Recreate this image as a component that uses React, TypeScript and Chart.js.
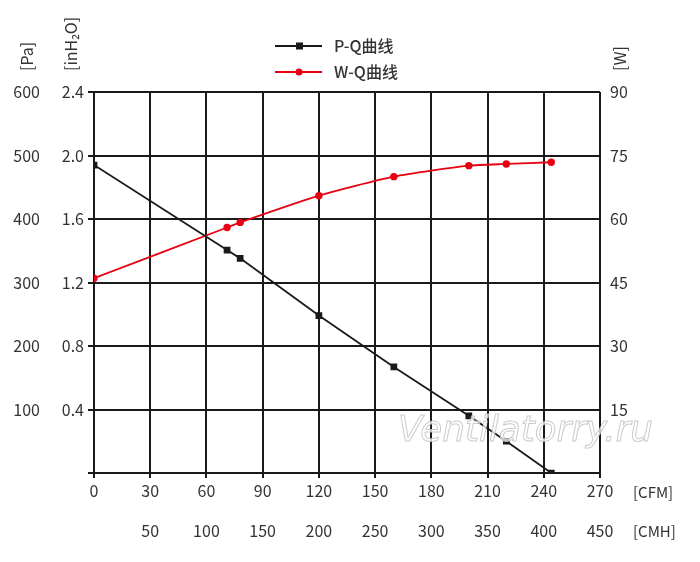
import { useEffect, useRef } from 'react';
import { Chart, registerables } from 'chart.js';

Chart.register(...registerables);

// flow rate [CFM] of each measured point
const flowCfm = [0, 71, 78, 120, 160, 200, 220, 244];
// static pressure [Pa]
const pressurePa = [485, 351, 338, 248, 167, 90, 50, 0];
// input power [W]
const powerW = [46, 58, 59.2, 65.5, 70, 72.6, 73, 73.4];

const seriesNames = ['P-Q曲线', 'W-Q曲线'];
const cmhTicks = ['', '50', '100', '150', '200', '250', '300', '350', '400', '450'];
const unitLabels = { pa: '[Pa]', inh2o: '[inH₂O]', w: '[W]', cfm: '[CFM]', cmh: '[CMH]' };
const watermark = 'Ventilatorry.ru';

const FONT = "'Noto Sans CJK SC', 'Noto Sans', sans-serif";
const INK = '#1a1a1a';
const TEXT = '#333';
const RED = '#e60012';

const overlay = {
  id: 'overlay',
  afterDraw(chart: any) {
    const { ctx, chartArea } = chart;
    const { left, right, top, bottom } = chartArea;
    ctx.save();

    // rotated unit titles above the axes
    ctx.fillStyle = TEXT;
    ctx.font = `16px ${FONT}`;
    ctx.textBaseline = 'middle';
    ctx.textAlign = 'left';
    const rot = (txt: string, x: number, y: number) => {
      ctx.save();
      ctx.translate(x, y);
      ctx.rotate(-Math.PI / 2);
      ctx.fillText(txt, 0, 0);
      ctx.restore();
    };
    rot(unitLabels.pa, left - 67, top - 21);
    rot(unitLabels.inh2o, left - 23, top - 21);
    rot(unitLabels.w, right + 20, top - 21);

    // x unit labels
    ctx.font = `15px ${FONT}`;
    ctx.fillText(unitLabels.cfm, right + 33, bottom + 19);
    ctx.fillText(unitLabels.cmh, right + 33, bottom + 58);

    // legend
    const items = chart.data.datasets;
    items.forEach((ds: any, i: number) => {
      const y = top - 46 + i * 26;
      const x0 = left + 181;
      ctx.strokeStyle = ds.borderColor;
      ctx.lineWidth = 2;
      ctx.beginPath();
      ctx.moveTo(x0, y);
      ctx.lineTo(x0 + 47, y);
      ctx.stroke();
      ctx.fillStyle = ds.borderColor;
      if (ds.pointStyle === 'rect') {
        ctx.fillRect(x0 + 21, y - 3.5, 7, 7);
      } else {
        ctx.beginPath();
        ctx.arc(x0 + 24, y, 3.5, 0, Math.PI * 2);
        ctx.fill();
      }
      ctx.fillStyle = TEXT;
      ctx.font = `500 16px ${FONT}`;
      ctx.fillText(ds.label, x0 + 59, y);
    });

    // watermark, stretched to its width in the original
    ctx.font = `italic 36px 'DejaVu Sans', sans-serif`;
    ctx.textBaseline = 'alphabetic';
    const w = ctx.measureText(watermark).width;
    ctx.translate(right - 202, bottom - 32);
    ctx.scale(255 / w, 1);
    ctx.fillStyle = 'rgba(255,255,255,0.75)';
    ctx.strokeStyle = 'rgba(190,190,190,0.8)';
    ctx.lineWidth = 1;
    ctx.fillText(watermark, 0, 0);
    ctx.strokeText(watermark, 0, 0);

    ctx.restore();
  },
};

export default function App() {
  const chartRef = useRef<HTMLCanvasElement | null>(null);
  const chartInstance = useRef<Chart | null>(null);

  useEffect(() => {
    document.body.style.margin = '0';
    const ctx = chartRef.current?.getContext('2d');
    if (!ctx) return;

    if (chartInstance.current) {
      chartInstance.current.destroy();
    }

    const tickFont = { family: FONT, size: 16 };

    chartInstance.current = new Chart(ctx, {
      type: 'line',
      data: {
        datasets: [
          {
            label: seriesNames[0],
            data: flowCfm.map((x, i) => ({ x, y: pressurePa[i] })),
            yAxisID: 'pa',
            borderColor: INK,
            backgroundColor: INK,
            borderWidth: 1.8,
            pointStyle: 'rect',
            pointRadius: 3.5,
            tension: 0,
          },
          {
            label: seriesNames[1],
            data: flowCfm.map((x, i) => ({ x, y: powerW[i] })),
            yAxisID: 'w',
            borderColor: RED,
            backgroundColor: RED,
            borderWidth: 1.8,
            pointStyle: 'circle',
            pointRadius: 2.8,
            tension: 0.2,
          },
        ],
      },
      options: {
        animation: false,
        responsive: true,
        maintainAspectRatio: false,
        layout: { padding: { top: 92, left: 0, right: 0, bottom: 0 } },
        plugins: {
          legend: { display: false },
          tooltip: { enabled: false },
        },
        scales: {
          x: {
            type: 'linear',
            position: 'bottom',
            min: 0,
            max: 270,
            weight: 1,
            afterFit: (s: any) => { s.height = 37; },
            ticks: { stepSize: 30, autoSkip: false, maxRotation: 0, padding: 3, color: TEXT, font: tickFont },
            grid: { color: INK, lineWidth: 2, tickLength: 5, tickColor: INK },
            border: { display: true, color: INK, width: 2 },
          },
          cmh: {
            type: 'linear',
            position: 'bottom',
            min: 0,
            max: 270,
            weight: 2,
            afterFit: (s: any) => { s.height = 52; },
            ticks: {
              stepSize: 30,
              autoSkip: false,
              maxRotation: 0,
              padding: 11,
              color: TEXT,
              font: tickFont,
              callback: (_v: any, i: number) => cmhTicks[i],
            },
            grid: { display: false, drawTicks: false },
            border: { display: false },
          },
          pa: {
            type: 'linear',
            position: 'left',
            min: 0,
            max: 600,
            weight: 2,
            afterFit: (s: any) => { s.width = 48; },
            ticks: {
              stepSize: 100,
              padding: 8,
              color: TEXT,
              font: tickFont,
              callback: (v: any) => (v === 0 ? '' : String(v)),
            },
            grid: { display: false, drawTicks: false },
            border: { display: false },
          },
          inh2o: {
            type: 'linear',
            position: 'left',
            min: 0,
            max: 2.4,
            weight: 1,
            afterFit: (s: any) => { s.width = 46; },
            ticks: {
              stepSize: 0.4,
              padding: 4,
              color: TEXT,
              font: tickFont,
              callback: (v: any) => (Math.abs(v) < 1e-6 ? '' : Number(v).toFixed(1)),
            },
            grid: { color: INK, lineWidth: 2, tickLength: 6, tickColor: INK },
            border: { display: true, color: INK, width: 2 },
          },
          w: {
            type: 'linear',
            position: 'right',
            min: 0,
            max: 90,
            afterFit: (s: any) => { s.width = 100; },
            ticks: {
              stepSize: 15,
              padding: 10,
              color: TEXT,
              font: tickFont,
              callback: (v: any) => (v === 0 ? '' : String(v)),
            },
            grid: { display: false, drawTicks: false },
            border: { display: false },
          },
        },
      } as any,
      plugins: [overlay],
    });

    return () => {
      chartInstance.current?.destroy();
      chartInstance.current = null;
    };
  }, []);

  return (
    <div style={{ position: 'relative', width: 700, height: 562, background: '#fff' }}>
      <canvas ref={chartRef}></canvas>
    </div>
  );
}
